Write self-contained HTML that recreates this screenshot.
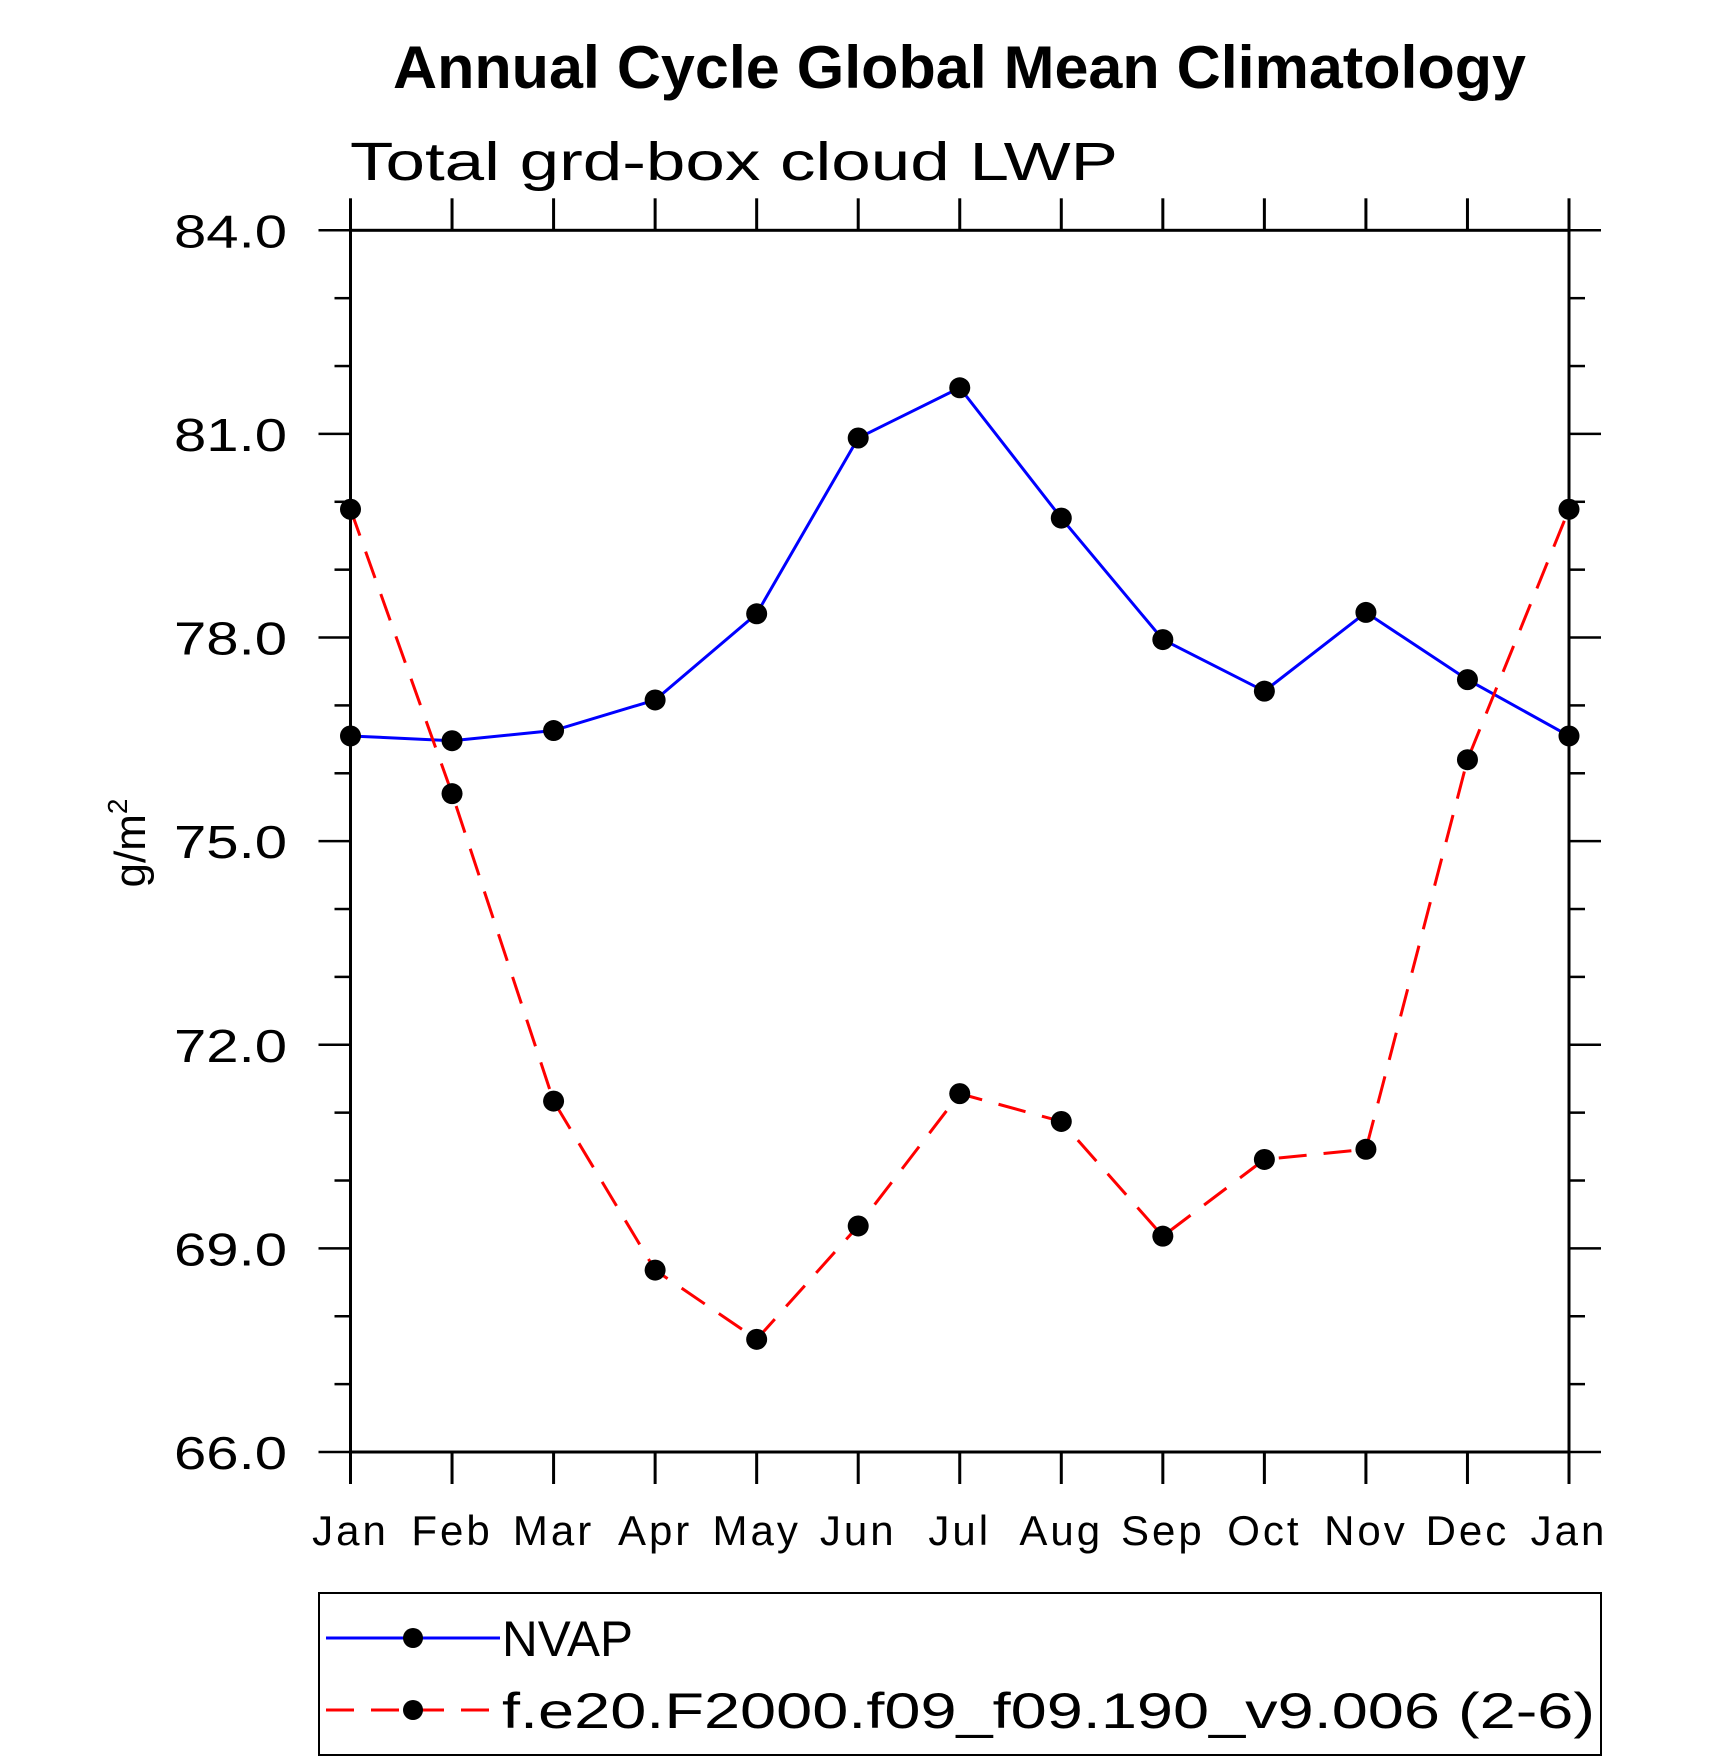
<!DOCTYPE html>
<html><head><meta charset="utf-8"><style>
html,body{margin:0;padding:0;background:#fff}
svg{display:block}
text{font-family:"Liberation Sans",sans-serif;fill:#000}
</style></head><body>
<svg id="chart" width="1710" height="1762" viewBox="0 0 1710 1762" xmlns="http://www.w3.org/2000/svg">
<text x="393" y="88" font-size="60" font-weight="bold" textLength="1133" lengthAdjust="spacingAndGlyphs">Annual Cycle Global Mean Climatology</text>
<text x="350" y="180" font-size="54" textLength="768" lengthAdjust="spacingAndGlyphs">Total grd-box cloud LWP</text>
<g id="axes"></g>
<g id="series"></g>
<text transform="translate(145,843) rotate(-90)" text-anchor="middle" font-size="44">g/m<tspan dy="-18" font-size="28">2</tspan></text>
<g>
<rect x="319" y="1593" width="1282" height="162" fill="none" stroke="#000" stroke-width="2"/>
<g>
<line x1="326" y1="1638" x2="500" y2="1638" stroke="#0000ff" stroke-width="3"/>
<circle cx="413" cy="1638" r="10" fill="#000"/>
<text x="502" y="1656" font-size="50" textLength="131" lengthAdjust="spacingAndGlyphs">NVAP</text></g>
<g>
<line x1="326" y1="1710" x2="500" y2="1710" stroke="#ff0000" stroke-width="3" stroke-dasharray="28,17"/>
<circle cx="413" cy="1710" r="10" fill="#000"/>
<text x="502" y="1728" font-size="50" textLength="1093" lengthAdjust="spacingAndGlyphs">f.e20.F2000.f09_f09.190_v9.006 (2-6)</text></g>
</g>
</svg>
<script>
const months = ["Jan","Feb","Mar","Apr","May","Jun","Jul","Aug","Sep","Oct","Nov","Dec","Jan"];
const nvap = [76.55,76.48,76.63,77.08,78.35,80.94,81.68,79.76,77.97,77.21,78.37,77.38,76.55];
const model = [79.89,75.70,71.17,68.68,67.66,69.33,71.28,70.87,69.18,70.31,70.46,76.20,79.89];
const yTicks = [66,69,72,75,78,81,84];
const yTickLabels = ["66.0","69.0","72.0","75.0","78.0","81.0","84.0"];

const L=350.5,R=1569,T=230.3,B=1452,ymin=66,ymax=84;
const xs=i=>L+(R-L)*i/(months.length-1);
const ys=v=>B-(B-T)*(v-ymin)/(ymax-ymin);
const NS="http://www.w3.org/2000/svg";
function mk(tag,attrs,parent){const e=document.createElementNS(NS,tag);for(const k in attrs)e.setAttribute(k,attrs[k]);parent.appendChild(e);return e;}
const ax=document.getElementById('axes');
const frame=mk('rect',{x:L,y:T,width:R-L,height:B-T,fill:'none',stroke:'#000','stroke-width':3},ax);


months.forEach((m,i)=>{
  const x=xs(i);
  const t1=mk('line',{x1:x,y1:B,x2:x,y2:B+32,stroke:'#000','stroke-width':3},ax);
  
  
  const t2=mk('line',{x1:x,y1:T,x2:x,y2:T-32,stroke:'#000','stroke-width':3},ax);
  
  
  const tx=mk('text',{x:x,y:1545,'text-anchor':'middle','font-size':42,'letter-spacing':3},ax);
  tx.textContent=m;
  
  
});
for(let v=ymin;v<=ymax;v++){
  const major=(v-ymin)%3===0, y=ys(v), len=major?32:16;
  const a=mk('line',{x1:L-len,y1:y,x2:L,y2:y,stroke:'#000','stroke-width':2.5},ax);
  
  
  const b=mk('line',{x1:R,y1:y,x2:R+len,y2:y,stroke:'#000','stroke-width':2.5},ax);
  
  
}
yTicks.forEach((v,i)=>{
  const t=mk('text',{x:287,y:ys(v)+17,'text-anchor':'end','font-size':46,textLength:113,lengthAdjust:'spacingAndGlyphs'},ax);
  t.textContent=yTickLabels[i];
  
  
});
const sg=document.getElementById('series');
function drawSeries(vals,color,dash,name){
  const pts=vals.map((v,i)=>xs(i)+','+ys(v)).join(' ');
  const pl=mk('polyline',{points:pts,fill:'none',stroke:color,'stroke-width':3},sg);
  if(dash)pl.setAttribute('stroke-dasharray',dash);
  
  
  vals.forEach((v,i)=>{
    const c=mk('circle',{cx:xs(i),cy:ys(v),r:10.5,fill:'#000'},sg);
    
    
  });
}
drawSeries(nvap,'#0000ff',null,'nvap');
drawSeries(model,'#ff0000','28,17','model');
</script>
</body></html>
